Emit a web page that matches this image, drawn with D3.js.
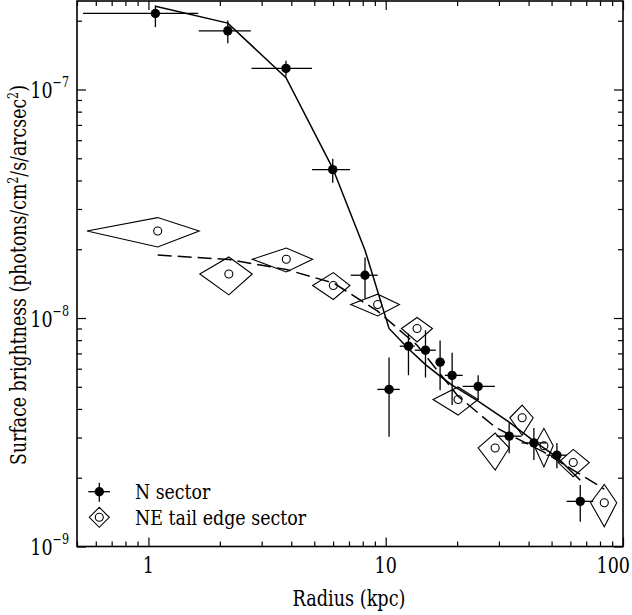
<!DOCTYPE html>
<html>
<head>
<meta charset="utf-8">
<script src="https://cdn.jsdelivr.net/npm/d3@7"></script>
<style>
  body { margin: 0; background: #fff; }
</style>
</head>
<body>
<svg id="chart" width="632" height="615"></svg>
<script>
// N sector: radius (kpc), bin edges, brightness and errors
let nRadius = [1.07, 2.16, 3.80, 5.98, 8.18, 10.33, 12.47, 14.71, 16.95, 19.05, 24.52, 33.13, 42.12, 52.66, 66.05]
let nRadLo  = [0.53, 1.63, 2.72, 4.89, 7.12, 9.22, 11.46, 13.26, 16.26, 17.74, 21.1, 29.29, 37.37, 47.64, 57.86]
let nRadHi  = [1.62, 2.70, 4.89, 7.07, 9.25, 11.46, 13.26, 16.26, 17.74, 21.1, 28.84, 37.37, 47.64, 57.86, 74.95]
let nSB     = [2.152e-7, 1.807e-7, 1.237e-7, 4.46e-8, 1.539e-8, 4.87e-9, 7.53e-9, 7.23e-9, 6.41e-9, 5.61e-9, 5.02e-9, 3.04e-9, 2.84e-9, 2.51e-9, 1.576e-9]
let nSBLo   = [1.875e-7, 1.595e-7, 1.141e-7, 3.91e-8, 1.217e-8, 3.02e-9, 5.62e-9, 5.49e-9, 4.83e-9, 4.16e-9, 4.37e-9, 2.56e-9, 2.39e-9, 2.20e-9, 1.284e-9]
let nSBHi   = [2.332e-7, 2.005e-7, 1.336e-7, 4.98e-8, 1.839e-8, 6.72e-9, 8.55e-9, 8.84e-9, 7.97e-9, 7.04e-9, 5.62e-9, 3.47e-9, 3.30e-9, 2.84e-9, 1.857e-9]
let nModel  = [2.316e-7, 1.952e-7, 1.126e-7, 4.52e-8, 1.98e-8, 9.0e-9, 7.33e-9, 6.25e-9, 5.57e-9, 5.08e-9, 4.33e-9, 3.50e-9, 2.89e-9, 2.46e-9, 1.95e-9]

// NE tail edge sector
let neRadius = [1.094, 2.182, 3.811, 6.016, 9.25, 13.56, 20.18, 28.92, 37.59, 46.42, 61.7, 83.4]
let neRadLo  = [0.551, 1.646, 2.739, 4.92, 7.12, 11.65, 15.83, 24.52, 33.37, 42.23, 53.33, 73.06]
let neRadHi  = [1.637, 2.739, 4.92, 7.07, 11.42, 15.74, 24.52, 33.13, 41.83, 50.8, 72.07, 94.1]
let neSB     = [2.403e-8, 1.559e-8, 1.807e-8, 1.387e-8, 1.146e-8, 9.00e-9, 4.40e-9, 2.70e-9, 3.66e-9, 2.76e-9, 2.33e-9, 1.554e-9]
let neSBLo   = [2.046e-8, 1.262e-8, 1.591e-8, 1.205e-8, 1.021e-8, 7.86e-9, 3.76e-9, 2.16e-9, 3.07e-9, 2.23e-9, 2.02e-9, 1.22e-9]
let neSBHi   = [2.751e-8, 1.850e-8, 2.025e-8, 1.581e-8, 1.271e-8, 1.005e-8, 4.99e-9, 3.135e-9, 4.16e-9, 3.29e-9, 2.66e-9, 1.871e-9]
let neModel  = [1.887e-8, 1.803e-8, 1.630e-8, 1.424e-8, 1.071e-8, 7.60e-9, 4.55e-9, 3.33e-9, 2.89e-9, 2.59e-9, 2.16e-9, 1.784e-9]

let xTicks = [1, 10, 100]
let xTickLabels = ['1', '10', '100']
let yTicks = [1e-9, 1e-8, 1e-7]
let yTickExps = ['\u22129', '\u22128', '\u22127']
let legendLabels = ['N sector', 'NE tail edge sector']

// pick the first serif face the browser really has, by comparing text widths
function pickSerif(svg) {
  let names = ['Liberation Serif', 'Times New Roman', 'Tinos', 'DejaVu Serif', 'Noto Serif', 'FreeSerif', 'serif']
  let probe = svg.append('text').attr('font-size', 40).text('Surface brightness Wmil 0123')
  probe.attr('font-family', '"NoSuchFontAtAll123"')
  let base = probe.node().getComputedTextLength()
  let found = 'serif'
  for (let n of names) {
    probe.attr('font-family', n === 'serif' ? 'serif' : '"' + n + '", "NoSuchFontAtAll123"')
    if (Math.abs(probe.node().getComputedTextLength() - base) > 0.5) { found = n === 'serif' ? 'serif' : '"' + n + '"'; break }
  }
  probe.remove()
  return found + ', serif'
}

// horizontal squeeze so a text gets the width it has in the reference
function fitK(node, target) {
  let w = node.getBBox().width
  return Math.max(0.65, Math.min(1.1, target / w))
}

function graficar() {
  let svg = d3.select('#chart')
  let W = 632
  let left = 77, right = 623, top = 1, bottom = 546.5
  let serif = pickSerif(svg)

  let x = d3.scaleLog().domain([0.5, 100]).range([left, right])
  let y = d3.scaleLog().domain([1e-9, 2.44e-7]).range([bottom, top])

  let nData = nRadius.map((r, i) => ({r: r, lo: nRadLo[i], hi: nRadHi[i], s: nSB[i], sLo: nSBLo[i], sHi: nSBHi[i], m: nModel[i]}))
  let neData = neRadius.map((r, i) => ({r: r, lo: neRadLo[i], hi: neRadHi[i], s: neSB[i], sLo: neSBLo[i], sHi: neSBHi[i], m: neModel[i]}))

  // ticks, all pointing inwards, on four sides
  let xMinor = x.ticks().filter(v => xTicks.indexOf(v) < 0)
  let yMinor = y.ticks().filter(v => !yTicks.some(t => Math.abs(t - v) / t < 1e-6))
  let noLabel = () => ''

  let axes = svg.append('g')
  axes.append('g').attr('transform', `translate(0,${bottom})`)
    .call(d3.axisBottom(x).tickValues(xMinor).tickSize(-5).tickFormat(noLabel))
  axes.append('g').attr('transform', `translate(0,${bottom})`)
    .call(d3.axisBottom(x).tickValues(xTicks).tickSize(-9).tickFormat(noLabel))
  axes.append('g').attr('transform', `translate(0,${top})`)
    .call(d3.axisTop(x).tickValues(xMinor).tickSize(-5).tickFormat(noLabel))
  axes.append('g').attr('transform', `translate(0,${top})`)
    .call(d3.axisTop(x).tickValues(xTicks).tickSize(-9).tickFormat(noLabel))
  axes.append('g').attr('transform', `translate(${left},0)`)
    .call(d3.axisLeft(y).tickValues(yMinor).tickSize(-5).tickFormat(noLabel))
  axes.append('g').attr('transform', `translate(${left},0)`)
    .call(d3.axisLeft(y).tickValues(yTicks).tickSize(-9).tickFormat(noLabel))
  axes.append('g').attr('transform', `translate(${right},0)`)
    .call(d3.axisRight(y).tickValues(yMinor).tickSize(-5).tickFormat(noLabel))
  axes.append('g').attr('transform', `translate(${right},0)`)
    .call(d3.axisRight(y).tickValues(yTicks).tickSize(-9).tickFormat(noLabel))
  axes.selectAll('.domain').remove()
  axes.selectAll('line').attr('stroke', '#000').attr('stroke-width', 1.2)

  svg.append('rect')
    .attr('x', left).attr('y', top)
    .attr('width', right - left).attr('height', bottom - top)
    .attr('fill', 'none').attr('stroke', '#000').attr('stroke-width', 1.6)

  // axis titles first: their squeeze factor is reused for the smaller texts
  let xt = svg.append('text')
    .attr('font-family', serif)
    .attr('text-anchor', 'middle').attr('font-size', 22)
    .text('Radius (kpc)')
  let kx = fitK(xt.node(), 113)
  xt.attr('transform', `translate(349,606) scale(${kx},1)`)

  let yt = svg.append('text')
    .attr('font-family', serif)
    .attr('text-anchor', 'middle').attr('font-size', 22)
  yt.append('tspan').text('Surface brightness (photons/cm')
  yt.append('tspan').attr('dy', -8).attr('font-size', 14).text('2')
  yt.append('tspan').attr('dy', 8).text('/s/arcsec')
  yt.append('tspan').attr('dy', -8).attr('font-size', 14).text('2')
  yt.append('tspan').attr('dy', 8).text(')')
  let ky = fitK(yt.node(), 380)
  yt.attr('transform', `translate(26,275) rotate(-90) scale(${ky},1)`)

  let k = (kx + ky) / 2

  // tick labels (the last one is pulled in so it stays inside the page)
  svg.selectAll('.xlab').data(xTicks).enter().append('text')
    .attr('class', 'xlab')
    .attr('font-family', serif).attr('font-size', 22)
    .attr('text-anchor', 'middle')
    .text((d, i) => xTickLabels[i])
    .attr('transform', function(d) {
      let half = this.getComputedTextLength() * k / 2
      return `translate(${Math.min(x(d), W - 2 - half)},573) scale(${k},1)`
    })

  let yl = svg.selectAll('.ylab').data(yTicks).enter().append('text')
    .attr('class', 'ylab')
    .attr('font-family', serif)
    .attr('text-anchor', 'end').attr('font-size', 22)
    .attr('transform', d => `translate(69,${y(d) + 8.5}) scale(${k},1)`)
  yl.append('tspan').text('10')
  yl.append('tspan').attr('dy', -11).attr('font-size', 14).text((d, i) => yTickExps[i])

  let plot = svg.append('g')

  // model curves
  let line = d3.line().x(d => x(d.r)).y(d => y(d.m))
  plot.append('path').datum(nData).attr('d', line)
    .attr('fill', 'none').attr('stroke', '#000').attr('stroke-width', 1.5)
  plot.append('path').datum(neData).attr('d', line)
    .attr('fill', 'none').attr('stroke', '#000').attr('stroke-width', 1.5)
    .attr('stroke-dasharray', '14,6')

  // N sector error bars and points
  let ng = plot.selectAll('.npt').data(nData).enter().append('g').attr('class', 'npt')
  ng.append('line')
    .attr('x1', d => x(d.lo)).attr('x2', d => x(d.hi))
    .attr('y1', d => y(d.s)).attr('y2', d => y(d.s))
    .attr('stroke', '#000').attr('stroke-width', 1.3)
  ng.append('line')
    .attr('x1', d => x(d.r)).attr('x2', d => x(d.r))
    .attr('y1', d => y(d.sLo)).attr('y2', d => y(d.sHi))
    .attr('stroke', '#000').attr('stroke-width', 1.3)
  ng.append('circle')
    .attr('cx', d => x(d.r)).attr('cy', d => y(d.s)).attr('r', 4.7)
    .attr('fill', '#000')

  // NE tail edge: error diamonds with open circles
  let eg = plot.selectAll('.ept').data(neData).enter().append('g').attr('class', 'ept')
  eg.append('path')
    .attr('d', d => 'M' + x(d.lo) + ',' + y(d.s) +
                    'L' + x(d.r) + ',' + y(d.sHi) +
                    'L' + x(d.hi) + ',' + y(d.s) +
                    'L' + x(d.r) + ',' + y(d.sLo) + 'Z')
    .attr('fill', 'none').attr('stroke', '#000').attr('stroke-width', 1.1)
  eg.append('circle')
    .attr('cx', d => x(d.r)).attr('cy', d => y(d.s)).attr('r', 4)
    .attr('fill', 'none').attr('stroke', '#000').attr('stroke-width', 1.1)

  // legend
  let lg = svg.append('g')
  lg.append('line').attr('x1', 88.3).attr('x2', 110).attr('y1', 491.7).attr('y2', 491.7)
    .attr('stroke', '#000').attr('stroke-width', 1.3)
  lg.append('line').attr('x1', 99.3).attr('x2', 99.3).attr('y1', 482.7).attr('y2', 501.7)
    .attr('stroke', '#000').attr('stroke-width', 1.3)
  lg.append('circle').attr('cx', 99.3).attr('cy', 491.7).attr('r', 4.7).attr('fill', '#000')
  lg.append('path').attr('d', 'M89.3,517.3L99.3,507.3L109.3,517.3L99.3,527.3Z')
    .attr('fill', 'none').attr('stroke', '#000').attr('stroke-width', 1.1)
  lg.append('circle').attr('cx', 99.3).attr('cy', 517.3).attr('r', 4)
    .attr('fill', 'none').attr('stroke', '#000').attr('stroke-width', 1.1)
  let legW = [76, 172]
  lg.selectAll('.legtext').data(legendLabels).enter().append('text')
    .attr('class', 'legtext')
    .attr('font-family', serif)
    .attr('font-size', 21)
    .text(d => d)
    .attr('transform', function(d, i) {
      return `translate(135,${499 + i * 26}) scale(${fitK(this, legW[i])},1)`
    })
}

graficar()
</script>
</body>
</html>
